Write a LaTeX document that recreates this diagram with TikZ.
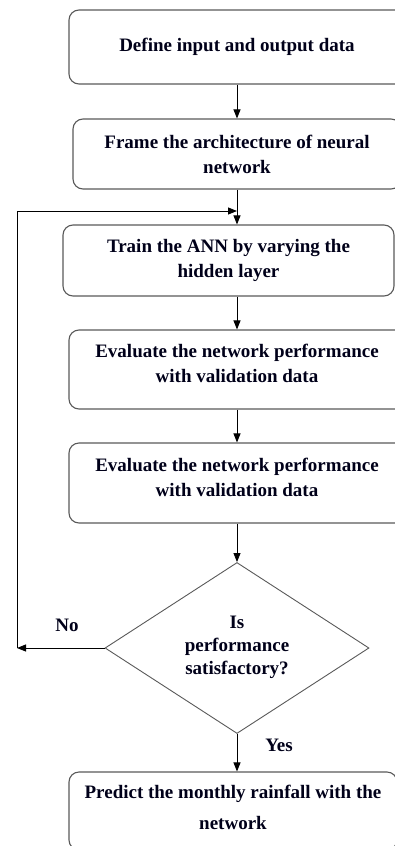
\documentclass[tikz,border=0pt]{standalone}
\usepackage{fontspec}
\setmainfont{Liberation Serif}
\usetikzlibrary{shapes.geometric,arrows.meta}
\tikzset{
  stepbox/.style={draw=gray!70!black, line width=1.1pt, rounded corners=10pt, minimum width=#1, align=center, inner sep=0pt, text=black!90!blue, font=\fontsize{19}{25}\selectfont\bfseries},
  decision/.style={diamond, draw=gray!70!black, line width=0.9pt, aspect=1.55, inner sep=0pt, minimum width=264pt, minimum height=171pt, align=center, text=black!90!blue, font=\fontsize{19}{23}\selectfont\bfseries},
  lbl/.style={text=black!90!blue, font=\fontsize{19}{23}\selectfont\bfseries},
  flow/.style={line width=0.9pt, -{Triangle[length=9pt,width=7pt]}}
}
\begin{document}
\begin{tikzpicture}[x=1pt,y=-1pt]
\pgfmathsetmacro\mid{237};
\useasboundingbox (0,0) rectangle (395,846);
\clip (0,0) rectangle (395,846);
\node[stepbox=336pt, minimum height=74pt] (def) at (\mid,47) {Define input and output data};
\node[stepbox=328pt, minimum height=70pt] (frame) at (\mid,154) {Frame the architecture of neural\\network};
\node[stepbox=331pt, minimum height=71pt] (train) at (228.5,260.5) {Train the ANN by varying the\\hidden layer};
\node[stepbox=336pt, minimum height=79pt] (evalA) at (\mid,369.5) {Evaluate the network performance\\with validation data\\[-13pt]};
\node[stepbox=336pt, minimum height=80pt] (evalB) at (\mid,483) {Evaluate the network performance\\with validation data\\[-13pt]};
\node[decision] (perf) at (\mid,648) {Is\\performance\\satisfactory?\\[-17pt]};
\node[stepbox=328pt, minimum height=78pt, font=\fontsize{19}{31}\selectfont\bfseries] (pred) at (233,811) {Predict the monthly rainfall with the\\network\\[-23pt]};
\coordinate (join) at (\mid,211);
\coordinate (back) at (17,648);
\draw[flow] (def) -- (frame);
\draw[flow] (frame.south) -- (frame.south |- train.north);
\draw[flow] (join |- train.south) -- (evalA.north);
\draw[flow] (evalA) -- (evalB);
\draw[flow] (evalB) -- (perf);
\draw[flow] (perf.south) -- (perf.south |- pred.north);
\draw[flow] (perf.west) -- (back);
\draw[flow] (back) |- (join);
\node[lbl] (no) at (67,625) {No};
\node[lbl] (yes) at (279,745) {Yes};
\end{tikzpicture}
\end{document}
